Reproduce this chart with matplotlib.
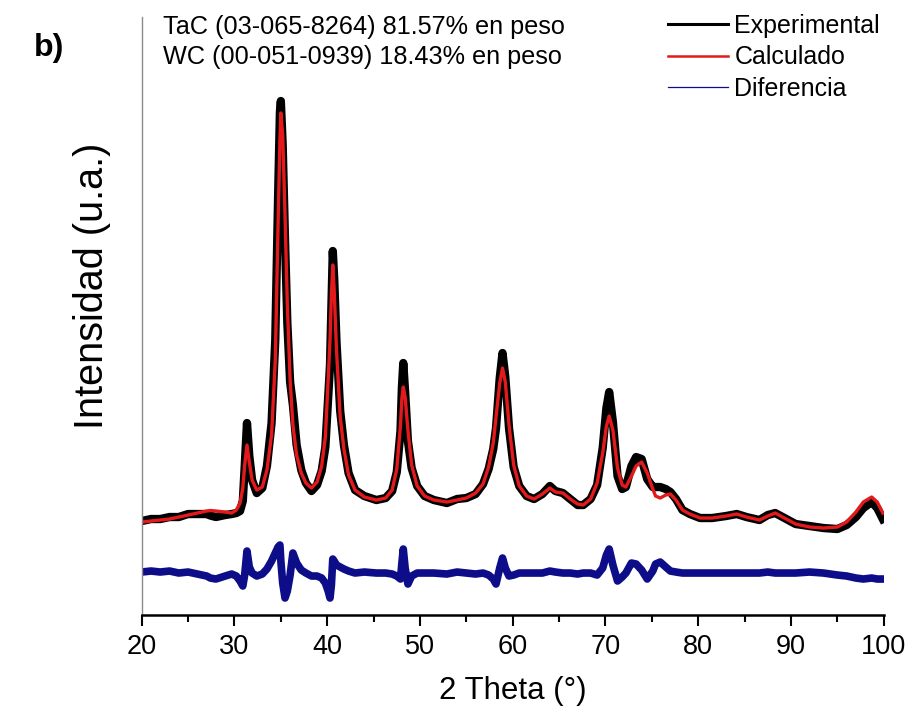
import matplotlib
matplotlib.use("Agg")
import numpy as np
import matplotlib.pyplot as plt
from matplotlib.lines import Line2D
from matplotlib.ticker import MultipleLocator

plt.rcParams["font.family"] = ["Liberation Sans", "DejaVu Sans"]

# ---------------------------
# Rietveld refinement data (TaC + WC)
# ---------------------------
two_theta = [
    20.0, 21.0, 22.0, 23.0, 24.0, 25.0, 26.0, 27.0, 27.4, 28.0,
    29.0, 29.7, 30.2, 30.6, 30.9, 31.1, 31.35, 31.6, 31.9, 32.4,
    33.0, 33.5, 34.0, 34.4, 34.7, 34.9, 35.0, 35.2, 35.45, 35.7,
    36.0, 36.3, 36.7, 37.2, 37.7, 38.3, 38.9, 39.4, 39.8, 40.1,
    40.3, 40.45, 40.6, 40.75, 41.0, 41.4, 41.8, 42.3, 43.0, 44.0,
    45.3, 46.3, 47.0, 47.5, 47.9, 48.05, 48.2, 48.4, 48.7, 49.1,
    49.7, 50.5, 51.5, 52.9, 54.0, 55.0, 56.0, 56.8, 57.4, 57.9,
    58.2, 58.6, 58.9, 59.2, 59.6, 60.1, 60.7, 61.5, 62.3, 63.2,
    64.0, 64.6, 65.4, 66.2, 67.0, 67.6, 68.4, 69.1, 69.7, 70.1,
    70.4, 70.8, 71.3, 71.8, 72.2, 72.8, 73.3, 73.9, 74.5, 75.1,
    75.4, 75.9, 76.5, 77.0, 77.6, 78.3, 79.1, 80.2, 81.5, 83.0,
    84.15, 85.2, 86.6, 87.5, 88.3, 89.3, 90.5, 92.0, 93.5, 95.0,
    96.0, 97.0, 97.8, 98.7, 99.3, 99.9,
]

calculado = [
    930, 940, 950, 960, 980, 1000, 1020, 1040, 1045, 1040,
    1030, 1020, 1050, 1120, 1270, 1500, 1700, 1530, 1350, 1250,
    1280, 1450, 1800, 2550, 3900, 4750, 5020, 4800, 4000, 3100,
    2350, 1900, 1600, 1420, 1320, 1270, 1330, 1490, 1780, 2350,
    2750, 3200, 3500, 3250, 2650, 1980, 1660, 1400, 1250, 1180,
    1150, 1170, 1250, 1460, 1900, 2170, 2280, 2180, 1850, 1500,
    1290, 1190, 1150, 1130, 1150, 1170, 1220, 1310, 1480, 1720,
    1980, 2320, 2470, 2330, 1900, 1500, 1290, 1190, 1160, 1210,
    1270, 1230, 1220, 1160, 1110, 1100, 1160, 1320, 1620, 1890,
    1990, 1850, 1470, 1300, 1280, 1390, 1490, 1530, 1420, 1260,
    1190, 1170, 1200, 1210, 1150, 1050, 1010, 970, 970, 990,
    1010, 980, 950, 990, 1020, 970, 910, 880, 870, 880,
    930, 1030, 1130, 1180, 1130, 1020,
]

diferencia = [
    10, 20, 10, 20, 0, 10, -10, -30, -50, -60,
    -30, -10, -30, -80, -130, -20, 220, 60, 0, -30,
    -10, 40, 120, 200, 260, 280, 120, -100, -250, -180,
    -20, 200, 100, 30, 0, -30, -30, -50, -100, -180,
    -250, -120, 140, 120, 80, 60, 40, 20, 0, 10,
    0, 0, -10, -30, -60, 100, 240, 50, -110, -30,
    0, 0, 0, -10, 10, 0, -10, 0, -20, -60,
    -110, 50, 150, 50, -30, -20, 0, 0, 0, 0,
    20, 10, 0, 0, -10, 0, 0, -20, 50, 180,
    240, 80, -80, -40, 0, 100, 90, 30, -60, 20,
    90, 110, 60, 20, 10, 0, 0, 0, 0, 0,
    0, 0, 0, 10, 0, 0, 0, 10, 0, -20,
    -30, -50, -60, -50, -60, -60,
]

diff_offset = 420

tt = np.array(two_theta)
calc = np.array(calculado)
diff = np.array(diferencia)
expe = calc + diff

# ---------------------------
# Figure
# ---------------------------
fig = plt.figure(figsize=(9.09, 7.12), dpi=100)
ax = fig.add_axes([0.1559, 0.1362, 0.8163, 0.8399])

ax.plot(tt, expe, color="black", lw=6.0, solid_joinstyle="round")
ax.plot(tt, calc, color="#e3191c", lw=2.4)
ax.plot(tt, diff + diff_offset, color="#0d0d8a", lw=5.5,
        solid_joinstyle="round")

ax.set_xlim(20, 100)
ax.set_ylim(0, 5980)

ax.spines["top"].set_visible(False)
ax.spines["right"].set_visible(False)
ax.spines["left"].set_color("#8a8a8a")
ax.spines["left"].set_linewidth(1.0)
ax.spines["bottom"].set_linewidth(1.8)

ax.set_yticks([])
ax.xaxis.set_major_locator(MultipleLocator(10))
ax.xaxis.set_minor_locator(MultipleLocator(5))
ax.tick_params(axis="x", which="major", direction="out", length=8, width=1.5,
               labelsize=19.5, pad=6)
ax.tick_params(axis="x", which="minor", direction="out", length=5, width=1.5)

ax.set_xlabel("2 Theta (°)", fontsize=22.5, labelpad=11)
fig.text(92 / 909, 1 - 286 / 712, "Intensidad (u.a.)", fontsize=28.5,
         rotation=90, va="center", ha="center")

# Phase fractions from the refinement
fig.text(0.179, 1 - 27 / 712, "TaC (03-065-8264) 81.57% en peso",
         fontsize=18.2, va="center", ha="left")
fig.text(0.179, 1 - 57 / 712, "WC (00-051-0939) 18.43% en peso",
         fontsize=18.2, va="center", ha="left")
fig.text(0.037, 1 - 48 / 712, "b)", fontsize=23, fontweight="bold",
         va="center", ha="left")

handles = [
    Line2D([], [], color="black", lw=2.2),
    Line2D([], [], color="#e3191c", lw=1.8),
    Line2D([], [], color="#0d0d8a", lw=0.9),
]
ax.legend(handles, ["Experimental", "Calculado", "Diferencia"],
          loc="upper left", bbox_to_anchor=(668 / 909, 1 - 14 / 712),
          bbox_transform=fig.transFigure, frameon=False, fontsize=18,
          handlelength=2.4, handletextpad=0.25, labelspacing=0.3,
          borderpad=0, borderaxespad=0)

fig.savefig("out.png", dpi=100)
